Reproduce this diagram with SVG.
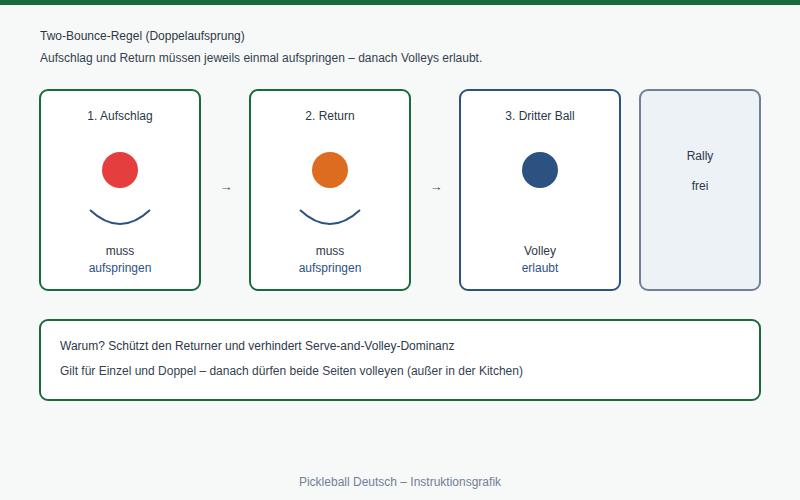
<svg xmlns="http://www.w3.org/2000/svg" width="800" height="500" viewBox="0 0 800 500">
<style>
text{font-family:"Liberation Sans",Arial,sans-serif;fill:#2d3748}
.t{font-size:12px;text-anchor:middle}
text.b{fill:#2c5282}
.card{fill:#ffffff;stroke-width:2}
.g{stroke:#1a6b3c}
.arc{fill:none;stroke:#2c5282;stroke-width:2}
.arr{font-size:13px;fill:#4a5568;text-anchor:middle}
</style>
<rect width="800" height="500" fill="#f7f9f8"/>
<rect width="800" height="5" fill="#1a6b3c"/>
<text x="40" y="40" font-size="12">Two-Bounce-Regel (Doppelaufsprung)</text>
<text x="40" y="62" font-size="12" style="fill:#333f4f">Aufschlag und Return müssen jeweils einmal aufspringen – danach Volleys erlaubt.</text>
<g id="card1">
<rect class="card g" x="40" y="90" width="160" height="200" rx="8"/>
<text class="t" x="120" y="120">1. Aufschlag</text>
<circle cx="120" cy="170" r="18" fill="#e53e3e"/>
<path class="arc" d="M90 210 Q120 238 150 210"/>
<text class="t" x="120" y="255">muss</text>
<text class="t b" x="120" y="272">aufspringen</text>
</g>
<g id="card2">
<rect class="card g" x="250" y="90" width="160" height="200" rx="8"/>
<text class="t" x="330" y="120">2. Return</text>
<circle cx="330" cy="170" r="18" fill="#dd6b20"/>
<path class="arc" d="M300 210 Q330 238 360 210"/>
<text class="t" x="330" y="255">muss</text>
<text class="t b" x="330" y="272">aufspringen</text>
</g>
<g id="card3">
<rect class="card" x="460" y="90" width="160" height="200" rx="8" stroke="#2c5282"/>
<text class="t" x="540" y="120">3. Dritter Ball</text>
<circle cx="540" cy="170" r="18" fill="#2c5282"/>
<text class="t" x="540" y="255">Volley</text>
<text class="t b" x="540" y="272">erlaubt</text>
</g>
<g id="card4">
<rect x="640" y="90" width="120" height="200" rx="8" fill="#edf2f7" stroke="#718096" stroke-width="2"/>
<text class="t" x="700" y="160">Rally</text>
<text class="t" x="700" y="190">frei</text>
</g>
<g id="connectors">
<text class="arr" x="226" y="191">→</text>
<text class="arr" x="436" y="191">→</text>
</g>
<g id="note">
<rect x="40" y="320" width="720" height="80" rx="8" fill="#ffffff" stroke="#1a6b3c" stroke-width="2"/>
<text x="60" y="350" font-size="12">Warum? Schützt den Returner und verhindert Serve-and-Volley-Dominanz</text>
<text x="60" y="375" font-size="12" style="fill:#333f4f">Gilt für Einzel und Doppel – danach dürfen beide Seiten volleyen (außer in der Kitchen)</text>
</g>
<text x="400" y="486" font-size="12" text-anchor="middle" style="fill:#718096">Pickleball Deutsch – Instruktionsgrafik</text>
</svg>
